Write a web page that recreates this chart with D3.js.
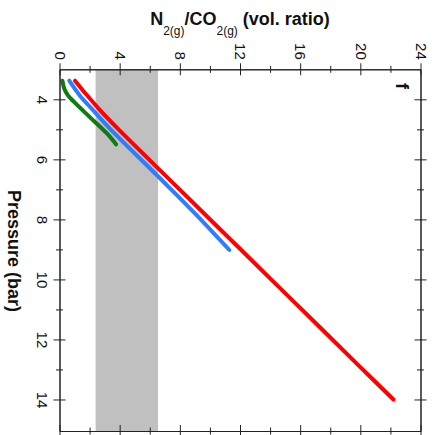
<!DOCTYPE html>
<html>
<head>
<meta charset="utf-8">
<script src="https://cdn.jsdelivr.net/npm/d3@7"></script>
<style>
  html, body { margin: 0; padding: 0; background: #fff; }
  svg { display: block; }
</style>
</head>
<body>
<svg id="chart" width="437" height="435"></svg>
<script>
// ---- data ----
const ratioTicks = [0, 4, 8, 12, 16, 20, 24];
const ratioMinor = [2, 6, 10, 14, 18, 22];
const pressureTicks = [4, 6, 8, 10, 12, 14];
const pressureMinor = [5, 7, 9, 11, 13];
const band = [2.4, 6.55]; // grey range of N2/CO2 ratio

// [ratio, pressure]
const redSeries = [[1.03, 3.38], [1.8, 3.85], [2.8, 4.42], [3.96, 5.02], [8, 7.01], [12, 8.98], [16, 10.95], [20, 12.92], [22.2, 14.0]];
const blueSeries = [[0.65, 3.38], [1.36, 3.88], [2.3, 4.4], [3.3, 4.95], [6.68, 6.63], [9, 7.8], [11.29, 9.02]];
const greenSeries = [[0.19, 3.38], [0.32, 3.65], [0.55, 3.86], [0.95, 4.08], [2.03, 4.6], [3.14, 5.13], [3.76, 5.5]];

const series = [
  { name: "red", color: "#ff0000", values: redSeries },
  { name: "blue", color: "#2f7cff", values: blueSeries },
  { name: "green", color: "#0f7a12", values: greenSeries }
];

// ---- layout ----
const L = 59.5, R = 420.5, T = 69.3, B = 431;
const x = d3.scaleLinear().domain([0, 24]).range([L, R]);
const y = d3.scaleLinear().domain([3, 15.05]).range([T, B]);

const svg = d3.select("#chart");
const axisColor = "#222";
const font = "Arial, 'Liberation Sans', sans-serif";

// grey band
svg.append("rect")
  .attr("x", x(band[0])).attr("y", T)
  .attr("width", x(band[1]) - x(band[0])).attr("height", B - T)
  .attr("fill", "#c0c0c0");

// lines
const line = d3.line()
  .x(d => x(d[0])).y(d => y(d[1]))
  .curve(d3.curveCatmullRom.alpha(0.5));

svg.selectAll("path.series").data(series).enter().append("path")
  .attr("class", "series")
  .attr("d", d => line(d.values))
  .attr("fill", "none")
  .attr("stroke", d => d.color)
  .attr("stroke-width", 4)
  .attr("stroke-linecap", "round")
  .attr("stroke-linejoin", "round");

// axes helper
function styleAxis(g) {
  g.selectAll("path.domain").attr("stroke", axisColor).attr("stroke-width", 1);
  g.selectAll(".tick line").attr("stroke", axisColor).attr("stroke-width", 1);
}

function drawAxis(gen, transform, vals, size, labels, horizontal, labelFn) {
  const g = svg.append("g").attr("transform", transform);
  const a = gen.tickValues(vals).tickSize(size).tickSizeOuter(0);
  if (!labels) a.tickFormat("");
  g.call(a);
  styleAxis(g);
  // crossing ticks
  if (horizontal) {
    g.selectAll(".tick line").attr("y1", function () { return -(+d3.select(this).attr("y2")); });
  } else {
    g.selectAll(".tick line").attr("x1", function () { return -(+d3.select(this).attr("x2")); });
  }
  if (labels && labelFn) labelFn(g);
  else g.selectAll(".tick text").remove();
  return g;
}

// top axis (labelled)
drawAxis(d3.axisTop(x), `translate(0,${T})`, ratioTicks, 6, true, true, g => {
  g.selectAll(".tick text")
    .attr("x", null).attr("y", null).attr("dy", null)
    .attr("transform", "translate(-5.3,-9.5) rotate(90)")
    .attr("text-anchor", "end")
    .attr("font-family", font).attr("font-size", 15).attr("fill", "#111");
});
drawAxis(d3.axisTop(x), `translate(0,${T})`, ratioMinor, 3.5, false, true);
// bottom axis
drawAxis(d3.axisBottom(x), `translate(0,${B})`, ratioTicks, 6, false, true);
drawAxis(d3.axisBottom(x), `translate(0,${B})`, ratioMinor, 3.5, false, true);
// left axis (labelled)
drawAxis(d3.axisLeft(y), `translate(${L},0)`, pressureTicks, 6, true, false, g => {
  g.selectAll(".tick text")
    .attr("x", null).attr("y", null).attr("dy", null)
    .attr("transform", "translate(-22.5,0) rotate(90)")
    .attr("text-anchor", "middle")
    .attr("font-family", font).attr("font-size", 15).attr("fill", "#111");
});
drawAxis(d3.axisLeft(y), `translate(${L},0)`, pressureMinor, 3.5, false, false);
// right axis
drawAxis(d3.axisRight(y), `translate(${R},0)`, pressureTicks, 6, false, false);
drawAxis(d3.axisRight(y), `translate(${R},0)`, pressureMinor, 3.5, false, false);

// title
const title = svg.append("text")
  .attr("x", (L + R) / 2).attr("y", 25)
  .attr("text-anchor", "middle")
  .attr("font-family", font).attr("font-size", 18).attr("font-weight", "bold").attr("fill", "#111");
title.append("tspan").text("N");
title.append("tspan").attr("dy", 10).attr("font-size", 12).attr("font-weight", "normal").text("2(g)");
title.append("tspan").attr("dy", -10).text("/CO");
title.append("tspan").attr("dy", 10).attr("font-size", 12).attr("font-weight", "normal").text("2(g)");
title.append("tspan").attr("dy", -10).text(" (vol. ratio)");

// pressure label
svg.append("text")
  .attr("transform", `translate(7.5,251) rotate(90)`)
  .attr("text-anchor", "middle")
  .attr("font-family", font).attr("font-size", 18).attr("font-weight", "bold").attr("fill", "#111")
  .text("Pressure (bar)");

// panel letter
svg.append("text")
  .attr("transform", `translate(396,86) rotate(90)`)
  .attr("text-anchor", "middle")
  .attr("font-family", font).attr("font-size", 18).attr("font-weight", "bold").attr("fill", "#111")
  .text("f");
</script>
</body>
</html>
